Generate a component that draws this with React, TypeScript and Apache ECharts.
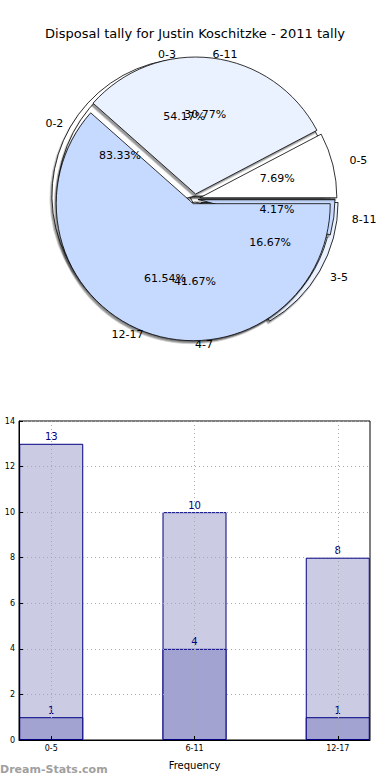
import React, { useEffect, useRef } from "react";
import * as echarts from "echarts";

// Pie data (three overlaid pies)
const pieANames = ["0-5", "6-11", "12-17"];
const pieAValues = [1, 4, 8];
const pieBNames = ["0-3", "4-7", "8-11"];
const pieBValues = [13, 10, 1];
const pieCNames = ["0-2", "3-5"];
const pieCValues = [5, 1];

// Bar data
const barCategories = ["0-5", "6-11", "12-17"];
const barTotals = [13, 10, 8];
const barSub = [1, 4, 1];
const yTicks = [0, 2, 4, 6, 8, 10, 12, 14];

// label-line lengths (layout only) so the outer names sit as in the reference
const outerLabelGap: Record<string, number> = {
  "0-5": 17, "6-11": 4, "12-17": 3,
  "0-3": 6, "4-7": 5, "8-11": 18,
  "0-2": 8, "3-5": 12,
};
// horizontal nudge (layout only)
const outerLabelDx: Record<string, number> = { "4-7": 18 };

const sliceColors = ["#ffffff", "#eaf1ff", "#c6d9ff"];
const FONT = "DejaVu Sans";
const R = 137;
const CENTER = [195, 199];

function pct(values: number[], i: number) {
  const s = values.reduce((a, b) => a + b, 0);
  return ((values[i] / s) * 100).toFixed(2) + "%";
}

function pieSeries(names: string[], values: number[], offset: number, z: number) {
  return {
    type: "pie",
    z,
    center: CENTER,
    radius: [0, R],
    startAngle: 0,
    clockwise: false,
    selectedMode: "multiple",
    selectedOffset: offset,
    avoidLabelOverlap: false,
    labelLayout: (p: any) => ({ hideOverlap: false, dx: outerLabelDx[names[p.dataIndex]] ?? 0 }),
    silent: true,
    itemStyle: {
      borderColor: "#000",
      borderWidth: 0.8,
      shadowColor: "rgba(0,0,0,0.4)",
      shadowOffsetX: -1.5,
      shadowOffsetY: 2.5,
      shadowBlur: 1,
    },
    label: {
      show: true,
      position: "outside",
      formatter: "{b}",
      color: "#000",
      fontSize: 11,
      fontFamily: FONT,
      distanceToLabelLine: 0,
    },
    labelLine: { show: false, length: 14, length2: 0 },
    emphasis: { disabled: true },
    data: names.map((n, i) => ({
      name: n,
      value: values[i],
      selected: true,
      itemStyle: { color: sliceColors[i % sliceColors.length] },
      labelLine: { show: false, length: outerLabelGap[n] ?? 14, length2: 0 },
    })),
  };
}

function pctSeries(names: string[], values: number[], offset: number) {
  return {
    type: "pie",
    z: 10,
    center: CENTER,
    radius: [R * 0.17, R * 0.95],
    startAngle: 0,
    clockwise: false,
    selectedMode: "multiple",
    selectedOffset: offset,
    avoidLabelOverlap: false,
    labelLayout: { hideOverlap: false },
    silent: true,
    itemStyle: { color: "rgba(0,0,0,0)", borderWidth: 0 },
    label: {
      show: true,
      position: "inside",
      formatter: (p: any) => pct(values, p.dataIndex),
      color: "#000",
      fontSize: 11,
      fontFamily: FONT,
    },
    labelLine: { show: false },
    emphasis: { disabled: true },
    data: names.map((n, i) => ({ name: n, value: values[i], selected: true })),
  };
}

export default function App() {
  const ref = useRef<HTMLDivElement>(null);
  useEffect(() => {
    if (!ref.current) return;
    const chart = echarts.init(ref.current, undefined, { renderer: "svg" });
    const option: any = {
      animation: false,
      backgroundColor: "#fff",
      textStyle: { fontFamily: FONT },
      title: {
        text: "Disposal tally for Justin Koschitzke - 2011 tally",
        left: "center",
        top: 22,
        textStyle: { fontSize: 13, fontWeight: "normal", color: "#000", fontFamily: FONT },
      },
      grid: {
        left: 19,
        right: 20,
        top: 421,
        bottom: 40,
        show: true,
        borderColor: "#000",
        borderWidth: 1,
        backgroundColor: "#fff",
      },
      xAxis: {
        type: "value",
        min: -0.225,
        max: 2.225,
        z: 5,
        name: "Frequency",
        nameLocation: "middle",
        nameGap: 20,
        nameTextStyle: { fontSize: 10, color: "#000", fontFamily: FONT },
        axisLine: { show: true, onZero: false, lineStyle: { color: "#000" } },
        axisTick: { show: true, inside: true, length: 4, customValues: [0, 1, 2], lineStyle: { color: "#000" } },
        axisLabel: {
          customValues: [0, 1, 2],
          formatter: (v: number) => barCategories[Math.round(v)] ?? "",
          fontSize: 8,
          color: "#000",
          margin: 4,
        },
        splitLine: { show: true, lineStyle: { color: "#a8a8a8", type: [1, 3], width: 1 } },
      },
      yAxis: {
        type: "value",
        min: 0,
        max: 14,
        interval: 2,
        z: 5,
        axisLine: { show: true, onZero: false, lineStyle: { color: "#000" } },
        axisTick: { show: true, inside: true, length: 4, lineStyle: { color: "#000" } },
        axisLabel: {
          fontSize: 8,
          color: "#000",
          margin: 4,
          formatter: (v: number) => (yTicks.includes(v) ? String(v) : ""),
        },
        splitLine: { show: true, lineStyle: { color: "#a8a8a8", type: [1, 3], width: 1 } },
      },
      graphic: [
        {
          type: "text",
          left: 0,
          top: 764,
          style: {
            text: "Dream-Stats.com",
            fill: "#a0a0a0",
            fontSize: 11,
            fontWeight: "bold",
            fontFamily: FONT,
          },
        },
      ],
      series: [
        pieSeries(pieCNames, pieCValues, 7, 1),
        pieSeries(pieBNames, pieBValues, 3, 2),
        pieSeries(pieANames, pieAValues, 5, 3),
        pctSeries(pieCNames, pieCValues, 7),
        pctSeries(pieBNames, pieBValues, 3),
        pctSeries(pieANames, pieAValues, 5),
        {
          type: "bar",
          barWidth: 64,
          barGap: "-100%",
          z: 2,
          itemStyle: { color: "#cbcbe4", borderColor: "#000080", borderWidth: 1 },
          label: { show: true, position: "top", distance: 2, color: "#000080", fontSize: 10, fontFamily: FONT },
          data: barTotals.map((v, i) => [i, v]),
        },
        {
          type: "bar",
          barWidth: 64,
          barGap: "-100%",
          z: 3,
          itemStyle: { color: "#a3a3d1", borderColor: "#000080", borderWidth: 1 },
          label: { show: true, position: "top", distance: 2, color: "#000080", fontSize: 10, fontFamily: FONT },
          data: barSub.map((v, i) => [i, v]),
        },
      ],
    };
    chart.setOption(option);
    return () => chart.dispose();
  }, []);
  return (
    <div
      ref={ref}
      style={{ position: "absolute", left: 0, top: 0, width: 390, height: 780 }}
    />
  );
}
